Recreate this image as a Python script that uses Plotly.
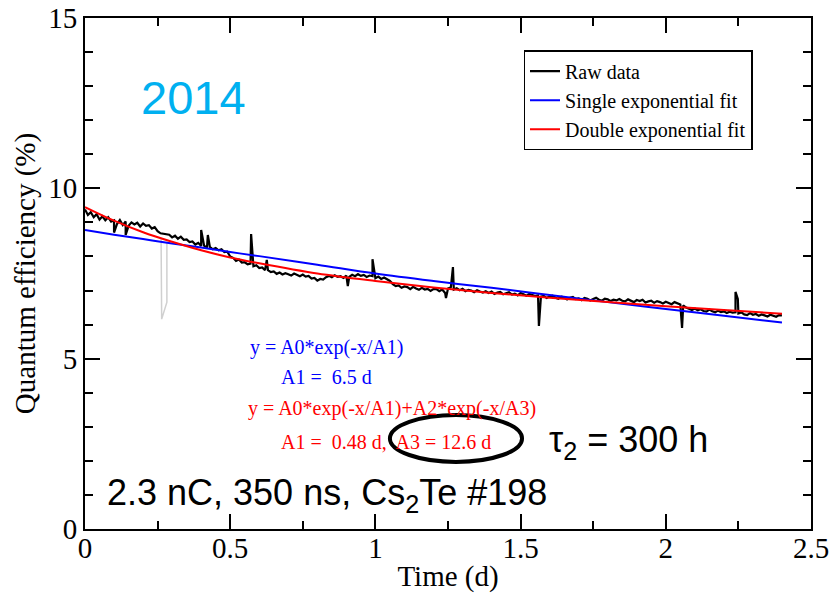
import numpy as np
import plotly.graph_objects as go

# ---------------- data ----------------
raw_y = [
    9.38, 9.22, 9.30, 9.15,
    9.24, 9.08, 9.18, 9.06, 9.15, 9.02,
    9.06, 8.95, 9.07, 8.92,
    9.03, 8.90, 9.00, 8.94, 8.99, 8.88, 8.97, 8.90, 8.92,
    8.82, 8.86, 8.74,
    8.68, 8.67, 8.66,
    8.64, 8.56, 8.61, 8.52, 8.58, 8.49,
    8.50, 8.42, 8.44, 8.35, 8.40, 8.31,
    8.32, 8.26, 8.28, 8.21, 8.25, 8.18, 8.21, 8.13, 8.14,
    8.00, 7.96, 7.87, 7.91, 7.82,
    7.83, 7.77, 7.79, 7.71, 7.74, 7.66, 7.68, 7.60,
    7.60, 7.54, 7.56, 7.49, 7.53, 7.47, 7.51, 7.48, 7.44, 7.50, 7.45, 7.42, 7.47, 7.41, 7.43,
    7.35, 7.37, 7.29, 7.34, 7.32, 7.39,
    7.43, 7.39, 7.45, 7.40, 7.42, 7.37, 7.44,
    7.40, 7.46, 7.42, 7.48, 7.43, 7.46, 7.40, 7.44,
    7.42, 7.36, 7.41, 7.34, 7.38, 7.32, 7.28,
    7.19, 7.13, 7.15, 7.08, 7.12, 7.10, 7.04, 7.11, 7.06, 7.02, 7.08, 7.03, 7.05, 6.99, 7.04,
    7.04, 6.98, 7.03, 6.93,
    7.06, 7.10, 7.03, 7.07, 7.01, 7.05, 6.98, 7.02, 7.00, 6.95, 7.01, 6.97, 6.94, 6.98,
    6.93, 6.97, 6.90, 6.94, 6.96, 6.89, 6.92, 6.95, 6.88, 6.91, 6.86, 6.93, 6.89, 6.85, 6.90, 6.87, 6.84,
    6.86, 6.82, 6.84, 6.78, 6.83, 6.85, 6.79, 6.76, 6.82, 6.80, 6.74, 6.79, 6.81, 6.75,
    6.77, 6.72, 6.78, 6.76, 6.71, 6.75, 6.79, 6.73, 6.70, 6.76, 6.74, 6.69, 6.73, 6.71,
    6.75, 6.70, 6.68, 6.74, 6.71, 6.66, 6.72, 6.69, 6.73, 6.65, 6.68, 6.70,
    6.64, 6.69, 6.66, 6.62, 6.67, 6.64, 6.60, 6.66, 6.63, 6.59, 6.56,
    6.50, 6.46, 6.43, 6.47, 6.42, 6.45, 6.40, 6.38, 6.44, 6.39, 6.36, 6.41, 6.37, 6.39, 6.34, 6.38, 6.35, 6.36,
    6.33, 6.36, 6.30, 6.28, 6.34, 6.29, 6.31, 6.26, 6.30, 6.27, 6.24, 6.29, 6.26, 6.23, 6.28, 6.27,
]
raw_step = 0.01

spike_x = [0.100, 0.140, 0.400, 0.423, 0.572, 0.626, 0.905, 0.990, 1.243, 1.267, 1.563, 2.056, 2.240, 2.248]
spike_y = [8.70, 8.63, 8.78, 8.63, 8.66, 7.90, 7.13, 7.92, 6.78, 7.69, 5.96, 5.90, 6.96, 6.75]

gray_x = [0.262, 0.264, 0.282, 0.282]
gray_y = [8.55, 6.16, 6.66, 8.43]

fit_x = [0.0, 0.1, 0.2, 0.3, 0.4, 0.5, 0.6, 0.8, 1.0, 1.2, 1.4, 1.6, 1.8, 2.0, 2.2, 2.4]
single_y = [8.78, 8.64, 8.51, 8.38, 8.26, 8.13, 8.01, 7.76, 7.50, 7.28, 7.08, 6.87, 6.66, 6.46, 6.26, 6.06]
double_y = [9.45, 9.05, 8.71, 8.43, 8.18, 7.97, 7.80, 7.50, 7.28, 7.09, 6.93, 6.79, 6.66, 6.54, 6.43, 6.32]

legend_names = ["Raw data", "Single exponential fit", "Double exponential fit"]

# merge raw base with spikes
base_x = list(np.round(np.arange(len(raw_y)) * raw_step, 4))
pts = sorted(list(zip(base_x, raw_y)) + list(zip(spike_x, spike_y)), key=lambda p: p[0])
rx = [p[0] for p in pts]
ry = [p[1] for p in pts]

serif = "Liberation Serif, Times New Roman, serif"
sans = "Liberation Sans, Arial, sans-serif"

fig = go.Figure()
fig.add_trace(go.Scatter(x=gray_x, y=gray_y, mode="lines",
                         line=dict(color="#d0d0d0", width=1.5), showlegend=False, hoverinfo="skip"))
fig.add_trace(go.Scatter(x=rx, y=ry, mode="lines", name=legend_names[0],
                         line=dict(color="black", width=2.2)))
fig.add_trace(go.Scatter(x=fit_x, y=single_y, mode="lines", name=legend_names[1],
                         line=dict(color="#0000ff", width=2, shape="spline")))
fig.add_trace(go.Scatter(x=fit_x, y=double_y, mode="lines", name=legend_names[2],
                         line=dict(color="#ff0000", width=2, shape="spline")))

axis_common = dict(showline=True, linecolor="black", linewidth=2, mirror="ticks",
                   ticks="inside", tickcolor="black", tickwidth=2, ticklen=15,
                   showgrid=False, zeroline=False, automargin=False,
                   tickfont=dict(family=serif, size=29, color="black"))

fig.update_xaxes(range=[0, 2.5], dtick=0.5, tick0=0, ticklabelstandoff=-8,
                 minor=dict(ticks="inside", ticklen=8, dtick=0.25, tickcolor="black", tickwidth=2, showgrid=False),
                 title=dict(text="Time (d)", font=dict(family=serif, size=29, color="black"), standoff=4),
                 **axis_common)
fig.update_yaxes(range=[0, 15], dtick=5, tick0=0,
                 minor=dict(ticks="inside", ticklen=8, dtick=1, tickcolor="black", tickwidth=2, showgrid=False),
                 title=dict(text="Quantum efficiency (%)", font=dict(family=serif, size=29, color="black"), standoff=4),
                 **axis_common)

# ellipse
fig.add_shape(type="circle", xref="x", yref="y", x0=1.05, x1=1.505, y0=1.97, y1=3.35,
              line=dict(color="black", width=4))

ann = [
    dict(text="2014", x=0.186, y=12.68, font=dict(family=sans, size=47, color="#00b0f0")),
    dict(text="y = A0*exp(-x/A1)", x=0.561, y=5.34, font=dict(family=serif, size=20, color="#0000ff")),
    dict(text="A1 =\u00a0 6.5 d", x=0.668, y=4.46, font=dict(family=serif, size=20, color="#0000ff")),
    dict(text="y = A0*exp(-x/A1)+A2*exp(-x/A3)", x=0.554, y=3.55, font=dict(family=serif, size=20, color="#ff0000")),
    dict(text="A1 =\u00a0 0.48 d,\u00a0 A3 = 12.6 d", x=0.668, y=2.55, font=dict(family=serif, size=20, color="#ff0000")),
    dict(text="\u03c4<sub>2</sub> = 300 h", x=1.591, y=2.55, font=dict(family=sans, size=36, color="black")),
    dict(text="2.3 nC, 350 ns, Cs<sub>2</sub>Te #198", x=0.069, y=1.0, font=dict(family=sans, size=36, color="black")),
]
for a in ann:
    fig.add_annotation(xref="x", yref="y", xanchor="left", yanchor="middle", showarrow=False, **a)

fig.update_layout(
    width=830, height=593,
    margin=dict(l=85, r=19, t=18, b=64),
    paper_bgcolor="white", plot_bgcolor="white",
    legend=dict(x=0.604, y=0.937, xanchor="left", yanchor="top",
                bgcolor="white", bordercolor="black", borderwidth=1.5,
                font=dict(family=serif, size=20, color="black"),
                tracegroupgap=0, itemwidth=30),
)

fig.write_html("out.html")
